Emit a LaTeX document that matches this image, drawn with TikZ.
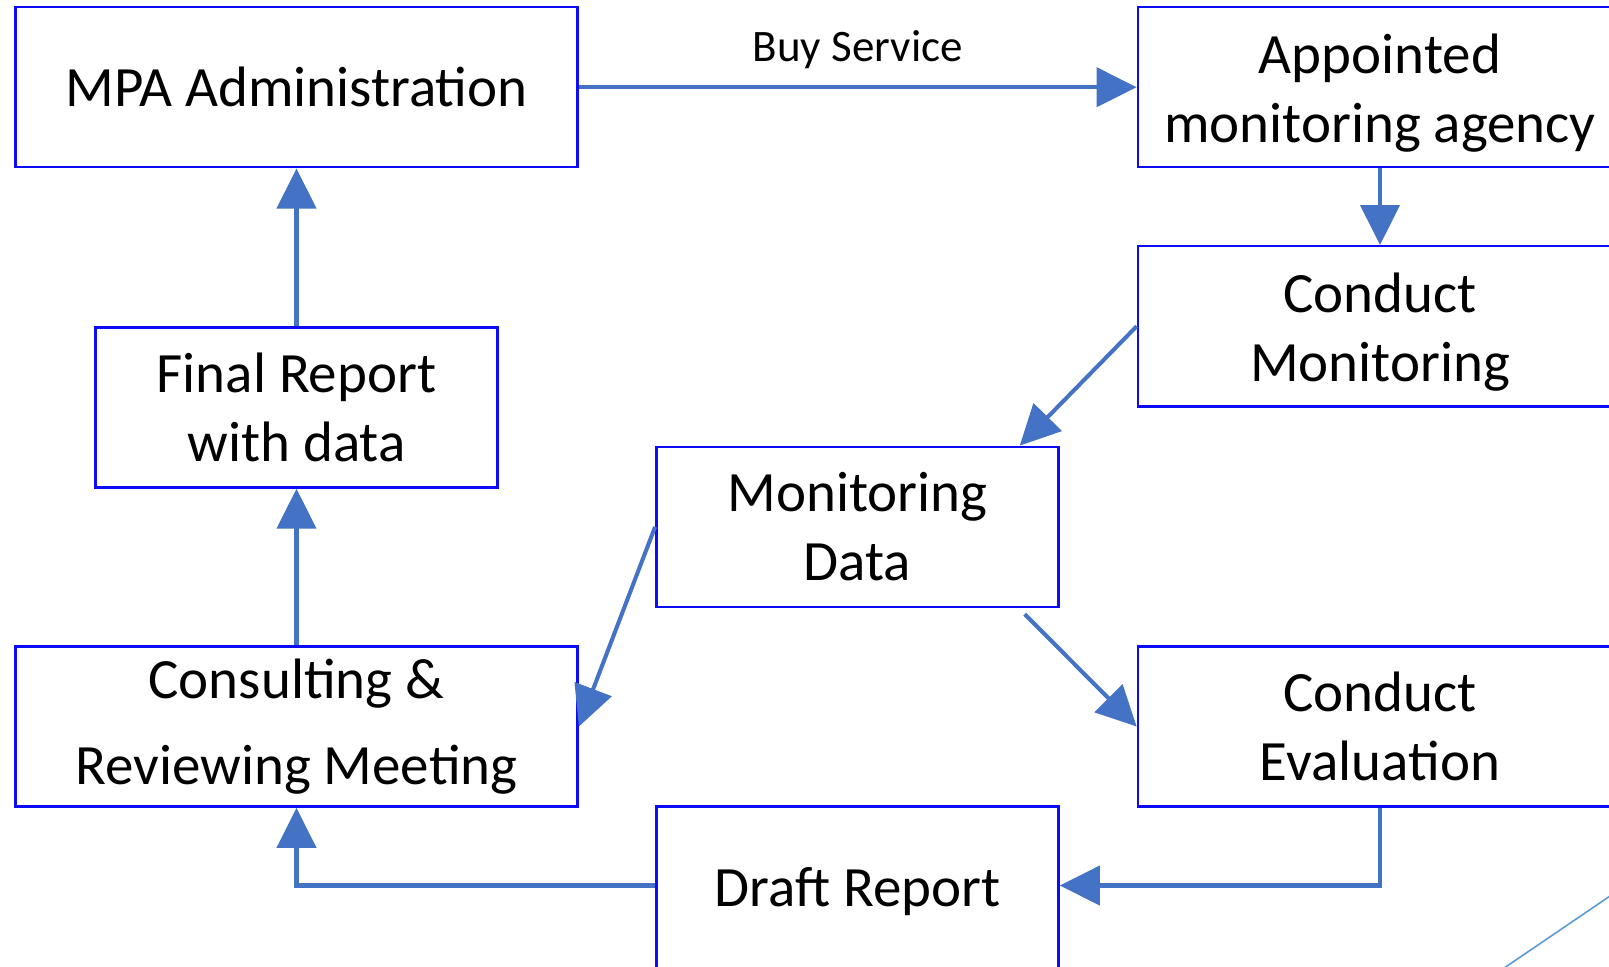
\documentclass[tikz,border=0pt]{standalone}
\usepackage{fontspec}
\setmainfont{Carlito}
\usetikzlibrary{arrows.meta}

\definecolor{boxblue}{RGB}{12,12,245}
\definecolor{linkblue}{RGB}{68,114,196}
\definecolor{skyblue}{RGB}{91,155,213}

% taller first line, pushes two-line labels down a bit
\newcommand{\lowstrut}{\rule{0pt}{14.4pt}}

\begin{document}
\begin{tikzpicture}[x=0.01cm,y=-0.01cm,>={Triangle[length=0.4cm,width=0.39cm]}]
\tikzstyle{box} = [draw=boxblue, line width=0.7pt, fill=white, text=black, align=center,
	font=\fontsize{16.2}{19.6}\selectfont, minimum height=1.6cm, inner sep=0pt]
\tikzstyle{wide} = [box, minimum width=5.62cm]
\tikzstyle{narrow} = [box, minimum width=4.02cm]
\tikzstyle{side} = [box, minimum width=4.84cm]
\tikzstyle{link} = [->, draw=linkblue, line width=1.15pt]
	\useasboundingbox (0,0) rectangle (1609,966);
	\clip (0,0) rectangle (1609,966);

	% left column
	\node [wide] (mpa) at (296.5,87.2) {MPA Administration};
	\node [narrow] (final) at (296.5,407.4) {Final Report\\with data};
	\node [wide] (consult) at (296.5,726.5) {Consulting \&\\[5pt]Reviewing Meeting};

	% middle column, the lower box runs off the bottom
	\node [narrow] (mdata) at (857.4,526.9) {Monitoring\\Data};
	\node [narrow, minimum height=1.7cm] (draft) at (857.4,891.5) {Draft Report};

	% right column (runs off the edge)
	\node [side] (agency) at (1380,87.2) {\lowstrut Appointed\\monitoring agency};
	\node [side] (cmon) at (1380,326.3) {\lowstrut Conduct\\Monitoring};
	\node [side] (ceval) at (1380,726.5) {Conduct\\Evaluation};

	\draw [link] (mpa.east) -- (agency.west)
		node [midway, yshift=0.38cm, text=black, font=\fontsize{12.8}{15}\selectfont] {Buy Service};
	\draw [link] (agency.south) -- (cmon.north);
	\draw [link] (cmon.west) -- ([xshift=-0.4cm]mdata.north east);
	\draw [link] (mdata.west) -- (consult.east);
	\draw [link] ([shift={(-0.35cm,-0.06cm)}]mdata.south east) -- (ceval.west);
	\draw [link] (ceval.south) |- ([yshift=0.06cm]draft.east);
	\draw [link] ([yshift=0.06cm]draft.west) -| (consult.south);
	\draw [link] (consult.north) -- (final.south);
	\draw [link] (final.north) -- (mpa.south);

	% stray line in the corner
	\draw [skyblue, line width=0.45pt] (1460,998) -- (1660,862);
\end{tikzpicture}
\end{document}
